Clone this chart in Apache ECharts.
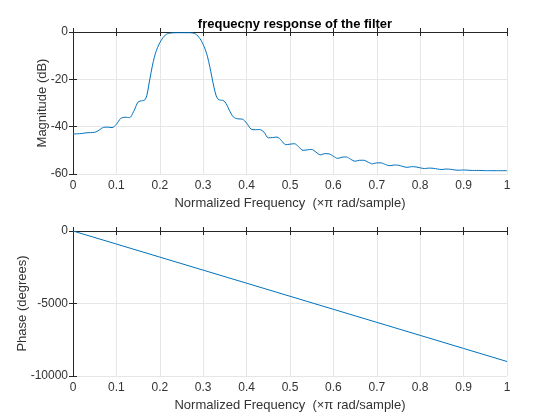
<!DOCTYPE html>
<html>
<head>
<meta charset="utf-8">
<script src="https://cdn.jsdelivr.net/npm/echarts@6/dist/echarts.min.js"></script>
<style>
    html, body { margin: 0; padding: 0; background: #fff; }
    #chart { width: 560px; height: 420px; }
</style>
</head>
<body>
<div id="chart"></div>
<script>
// normalized frequency (x pi rad/sample) and magnitude (dB)
var freq = [0, 0.01, 0.02, 0.03, 0.04, 0.05, 0.06, 0.07, 0.08, 0.09,
    0.10, 0.11, 0.12, 0.13, 0.14, 0.15, 0.16, 0.165, 0.17, 0.175,
    0.18, 0.185, 0.19, 0.195, 0.20, 0.205, 0.21, 0.215, 0.22, 0.23,
    0.24, 0.25, 0.26, 0.27, 0.275, 0.28, 0.285, 0.29, 0.295, 0.30,
    0.305, 0.31, 0.315, 0.32, 0.325, 0.33, 0.335, 0.34, 0.345, 0.35,
    0.355, 0.36, 0.37, 0.38, 0.39, 0.40, 0.41, 0.42, 0.43, 0.44,
    0.45, 0.46, 0.47, 0.48, 0.49, 0.50, 0.51, 0.52, 0.53, 0.54,
    0.55, 0.56, 0.57, 0.58, 0.59, 0.60, 0.61, 0.62, 0.63, 0.64,
    0.65, 0.66, 0.67, 0.68, 0.69, 0.70, 0.71, 0.72, 0.73, 0.74,
    0.75, 0.76, 0.77, 0.78, 0.79, 0.80, 0.81, 0.82, 0.83, 0.84,
    0.85, 0.86, 0.87, 0.88, 0.89, 0.90, 0.91, 0.92, 0.93, 0.94,
    0.95, 0.96, 0.97, 0.98, 0.99, 1.00];
var magDb = [-43.1, -43.0, -42.9, -42.6, -42.5, -42.4, -41.5, -40.3, -40.2, -40.4,
    -39.0, -36.5, -36.0, -36.2, -33.5, -29.6, -29.0, -28.8, -27.0, -22.0,
    -17.0, -12.5, -9.0, -6.5, -4.5, -3.0, -1.8, -1.0, -0.6, -0.35,
    -0.3, -0.3, -0.3, -0.3, -0.4, -0.6, -1.2, -2.2, -3.5, -5.3,
    -7.5, -10.5, -14.5, -19.0, -23.5, -27.0, -28.5, -28.8, -28.9, -29.5,
    -31.0, -33.0, -36.0, -36.7, -36.8, -38.5, -41.0, -41.3, -41.2, -42.3,
    -44.7, -44.6, -44.4, -45.8, -47.6, -47.4, -47.2, -48.5, -50.0, -49.8,
    -49.6, -50.8, -51.9, -51.4, -51.5, -52.5, -53.4, -52.9, -52.8, -53.8,
    -54.6, -54.2, -54.2, -55.0, -55.7, -55.3, -55.3, -56.0, -56.5, -56.2,
    -56.3, -56.8, -57.2, -56.9, -57.0, -57.4, -57.7, -57.5, -57.6, -57.9,
    -58.1, -57.9, -58.0, -58.3, -58.4, -58.3, -58.4, -58.5, -58.5, -58.5,
    -58.6, -58.6, -58.6, -58.6, -58.6, -58.6];

// phase (degrees) at every 0.1 of normalized frequency
var phaseFreq = [0, 0.1, 0.2, 0.3, 0.4, 0.5, 0.6, 0.7, 0.8, 0.9, 1];
var phaseDeg = [0, -900, -1800, -2700, -3600, -4500, -5400, -6300, -7200, -8100, -9000];

var magData = freq.map(function (f, i) { return [f, magDb[i]]; });
var phaseData = phaseFreq.map(function (f, i) { return [f, phaseDeg[i]]; });

var FONT = '"Liberation Sans", Arial, Helvetica, sans-serif';
var AXIS_COLOR = '#262626';
var LABEL_COLOR = '#333333';
var GRID_COLOR = '#e6e6e6';
var LINE_COLOR = '#0072BD';
var X_NAME = 'Normalized Frequency  (\u00d7\u03c0 rad/sample)';

function plainNum(v) {
    return String(v);
}

function bottomX(gridIndex) {
    return {
        type: 'value', gridIndex: gridIndex, min: 0, max: 1, interval: 0.1,
        name: X_NAME, nameLocation: 'middle', nameGap: 23, nameMoveOverlap: false,
        nameTextStyle: { color: LABEL_COLOR, fontFamily: FONT, fontSize: 13 },
        axisLine: { lineStyle: { color: AXIS_COLOR, width: 1 } },
        axisTick: { inside: true, length: 4, lineStyle: { color: AXIS_COLOR } },
        axisLabel: { color: LABEL_COLOR, fontFamily: FONT, fontSize: 12, margin: 6, formatter: plainNum },
        splitLine: { show: true, lineStyle: { color: GRID_COLOR, width: 1 } }
    };
}
function topX(gridIndex) {
    return {
        type: 'value', gridIndex: gridIndex, position: 'top', min: 0, max: 1, interval: 0.1,
        axisLine: { lineStyle: { color: AXIS_COLOR, width: 1 } },
        axisTick: { inside: true, length: 4, lineStyle: { color: AXIS_COLOR } },
        axisLabel: { show: false },
        splitLine: { show: false }
    };
}
function leftY(gridIndex, min, interval, name, gap) {
    return {
        type: 'value', gridIndex: gridIndex, min: min, max: 0, interval: interval,
        name: name, nameLocation: 'middle', nameGap: gap, nameMoveOverlap: false,
        nameTextStyle: { color: LABEL_COLOR, fontFamily: FONT, fontSize: 13 },
        axisLine: { show: true, lineStyle: { color: AXIS_COLOR, width: 1 } },
        axisTick: { show: true, inside: true, length: 4, lineStyle: { color: AXIS_COLOR } },
        axisLabel: { color: LABEL_COLOR, fontFamily: FONT, fontSize: 12, margin: 5, formatter: plainNum },
        splitLine: { show: true, lineStyle: { color: GRID_COLOR, width: 1 } }
    };
}
function rightY(gridIndex, min, interval) {
    return {
        type: 'value', gridIndex: gridIndex, position: 'right', min: min, max: 0, interval: interval,
        axisLine: { show: true, lineStyle: { color: AXIS_COLOR, width: 1 } },
        axisTick: { show: true, inside: true, length: 4, lineStyle: { color: AXIS_COLOR } },
        axisLabel: { show: false },
        splitLine: { show: false }
    };
}

var myChart = echarts.init(document.getElementById('chart'), null, { renderer: 'canvas' });

var option = {
    backgroundColor: '#fff',
    animation: false,
    title: {
        text: 'frequecny response of the filter',
        left: 290, top: 13, textAlign: 'center',
        textStyle: { color: '#000', fontFamily: FONT, fontSize: 13, fontWeight: 'bold' }
    },
    grid: [
        { left: 73, top: 32, width: 434, height: 142, outerBoundsMode: 'none' },
        { left: 73, top: 231, width: 434, height: 145, outerBoundsMode: 'none' }
    ],
    xAxis: [bottomX(0), topX(0), bottomX(1), topX(1)],
    yAxis: [
        leftY(0, -60, 20, 'Magnitude (dB)', 24),
        rightY(0, -60, 20),
        leftY(1, -10000, 5000, 'Phase (degrees)', 44),
        rightY(1, -10000, 5000)
    ],
    series: [
        {
            name: 'magnitude', type: 'line', xAxisIndex: 0, yAxisIndex: 0,
            data: magData, smooth: 0.3, symbol: 'none',
            lineStyle: { color: LINE_COLOR, width: 1 }
        },
        {
            name: 'phase', type: 'line', xAxisIndex: 2, yAxisIndex: 2,
            data: phaseData, symbol: 'none',
            lineStyle: { color: LINE_COLOR, width: 1 }
        }
    ]
};
myChart.setOption(option);
</script>
</body>
</html>
